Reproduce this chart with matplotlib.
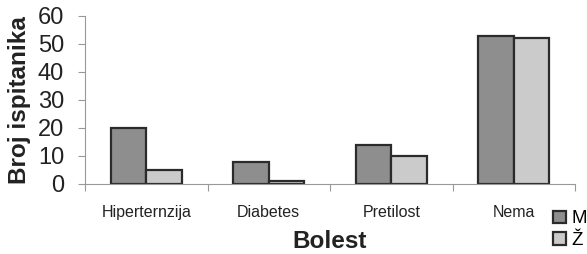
import matplotlib
matplotlib.use("Agg")
import matplotlib.pyplot as plt
import numpy as np

plt.rcParams['font.family'] = ['Liberation Sans', 'DejaVu Sans']

# donnees
bolesti = ["Hiperternzija", "Diabetes", "Pretilost", "Nema"]
muski = [20, 8, 14, 53]
zene = [5, 1, 10, 52]
oznake = ["M", "Ž"]

fig = plt.figure(figsize=(5.87, 2.54), dpi=100)
ax = fig.add_axes([85/587, 1-184/254, 490/587, 168/254])

x = np.arange(len(bolesti))
sirina = 0.29
b1 = ax.bar(x - sirina/2, muski, sirina, color="#8e8e8e", edgecolor="#2b2b2b", linewidth=1.6, label=oznake[0])
b2 = ax.bar(x + sirina/2, zene, sirina, color="#cbcbcb", edgecolor="#2b2b2b", linewidth=1.6, label=oznake[1])

ax.set_xlim(-0.5, len(bolesti) - 0.5)
ax.set_ylim(0, 60)
ax.set_yticks(range(0, 61, 10))
ax.tick_params(axis="y", labelsize=17, colors="#999999", labelcolor="#222222", length=5, width=0.8, pad=10)
ax.set_xticks(x)
ax.set_xticklabels(bolesti, fontsize=11.5, color="#222222")
ax.tick_params(axis="x", length=0, pad=15)
ax.set_xticks(np.arange(-0.5, len(bolesti)), minor=True)
ax.tick_params(axis="x", which="minor", length=5, colors="#999999", width=0.8)

for s in ["top", "right"]:
    ax.spines[s].set_visible(False)
for s in ["left", "bottom"]:
    ax.spines[s].set_color("#999999")
    ax.spines[s].set_linewidth(0.8)

ax.set_ylabel("Broj ispitanika", fontsize=17.5, fontweight="bold", color="#222222", labelpad=5)
fig.text(330/587, 1-242/254, "Bolest", fontsize=17.5, fontweight="bold", color="#222222", ha="center", va="center")

fig.legend(handles=[b1, b2], loc="upper left", bbox_to_anchor=(544/587, 1-201/254),
           frameon=False, fontsize=13.5, handlelength=0.65, handleheight=0.65,
           handletextpad=0.3, labelspacing=0.25, borderpad=0)

fig.savefig("out.png", dpi=100)
